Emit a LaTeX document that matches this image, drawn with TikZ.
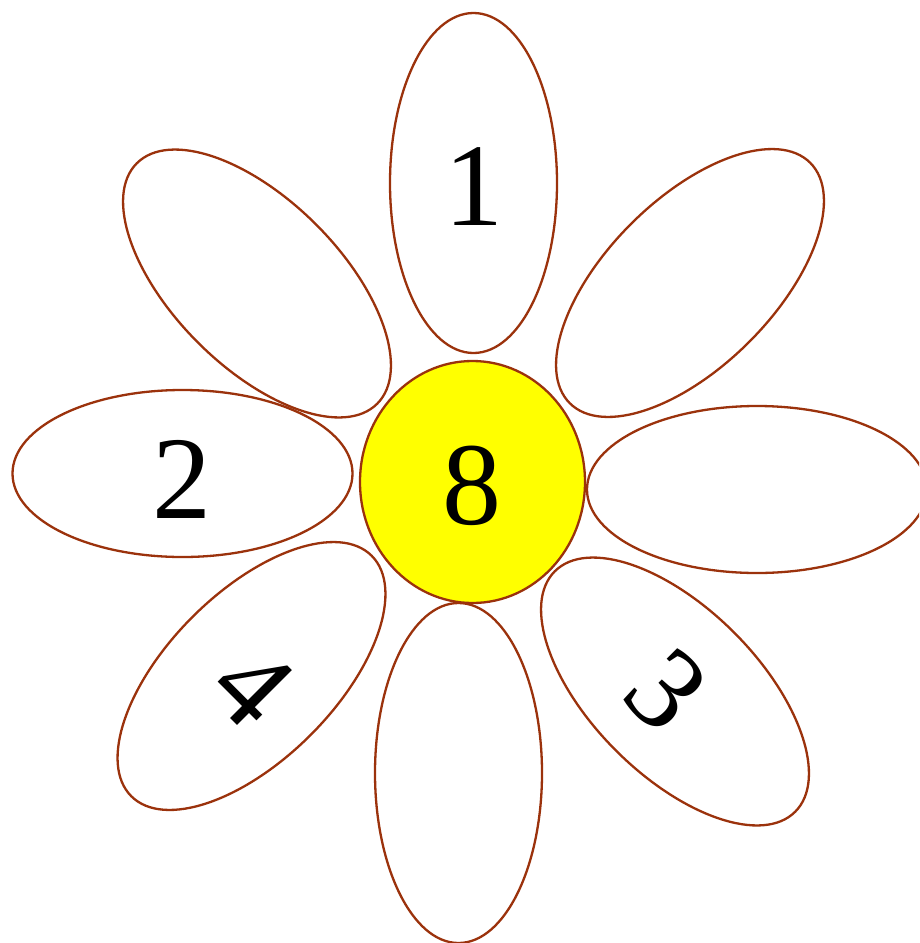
\documentclass[tikz,border=0pt]{standalone}
\usepackage{fontspec}
\setmainfont{Liberation Serif}
\definecolor{petalline}{RGB}{155,50,12}
\definecolor{centerfill}{RGB}{255,255,0}
\tikzset{
  petal/.style={draw=petalline, line width=2.3pt, fill=white},
  num/.style={inner sep=0pt, font=\fontsize{118}{118}\selectfont},
}
\begin{document}
\begin{tikzpicture}[x=1pt,y=-1pt]
\useasboundingbox (0,0) rectangle (919,943);
\clip (0,0) rectangle (919,943);
\fill[white] (0,0) rectangle (919,943);
% petal centres
\coordinate (ptop) at (473.5,183);
\coordinate (pleft) at (182.5,473.5);
\coordinate (pright) at (757,489.5);
\coordinate (pbottom) at (458.5,773);
\coordinate (ptl) at (257,283.5);
\coordinate (ptr) at (690,283);
\coordinate (pbl) at (251.5,676);
\coordinate (pbr) at (675,691.5);
% petals
\draw[petal] (ptop) ellipse [x radius=83.5, y radius=170];
\draw[petal] (pleft) ellipse [x radius=170, y radius=83.5];
\draw[petal] (pright) ellipse [x radius=170, y radius=83.5];
\draw[petal] (pbottom) ellipse [x radius=83.5, y radius=170];
\draw[petal, rotate around={45:(ptl)}] (ptl) ellipse [x radius=83.5, y radius=170];
\draw[petal, rotate around={-45:(ptr)}] (ptr) ellipse [x radius=83.5, y radius=170];
\draw[petal, rotate around={-45:(pbl)}] (pbl) ellipse [x radius=83.5, y radius=170];
\draw[petal, rotate around={45:(pbr)}] (pbr) ellipse [x radius=83.5, y radius=170];
% centre
\coordinate (ctr) at (472.5,482);
\draw[petal, fill=centerfill] (ctr) ellipse [x radius=112.5, y radius=121];
% labels
\node[num] (n1) at (474,187) {1};
\node[num] (n2) at (182,479) {2};
\node[num] (n8) at (472,486) {8};
\node[num, rotate=-45] (n4) at (253,686) {4};
\node[num, rotate=-45] (n3) at (667,690) {3};
\end{tikzpicture}
\end{document}
